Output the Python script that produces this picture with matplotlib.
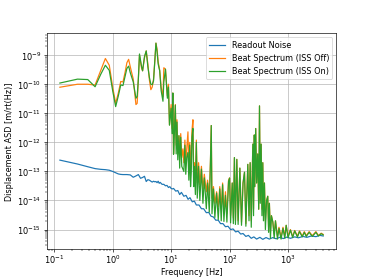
import matplotlib
matplotlib.use('Agg')
import matplotlib.pyplot as plt

# readout noise floor
readout_freq = [0.125, 0.25, 0.375, 0.5, 0.625, 0.75, 0.875, 1.0,
                1.125, 1.25, 1.375, 1.5, 1.75, 2.0, 2.25, 2.5,
                2.75, 3.0, 3.25, 3.5, 3.75, 4.0, 4.25, 4.5,
                4.75, 5.0, 5.25, 5.5, 5.75, 6.0, 6.25, 6.5,
                7.0, 7.5, 8.0, 8.5, 9.0, 9.5, 10, 10.5,
                11, 12, 13, 14, 15, 16.5, 18, 19.5,
                21, 23, 25, 27, 30, 33, 36, 40,
                44, 48, 53, 58, 64, 70, 77, 85,
                94, 104, 115, 127, 140, 155, 170, 190,
                210, 235, 260, 290, 330, 370, 420, 480,
                550, 630, 720, 830, 950, 1100, 1300, 1500,
                1800, 2100, 2500, 3000, 3500, 4000]
readout_asd = [2.45e-13, 1.8e-13, 1.45e-13, 1.25e-13, 1.18e-13, 1.15e-13, 1.1e-13, 1.0e-13,
               9e-14, 8.2e-14, 7.9e-14, 7.8e-14, 7.8e-14, 7.6e-14, 6.3e-14, 7e-14,
               7.8e-14, 5.8e-14, 6.2e-14, 6.8e-14, 4.5e-14, 5.2e-14, 5e-14, 4.6e-14,
               4.3e-14, 4.6e-14, 4.4e-14, 4.5e-14, 4.1e-14, 4.6e-14, 3.9e-14, 4.2e-14,
               3.6e-14, 3.6e-14, 3.2e-14, 3.3e-14, 2.8e-14, 3.0e-14, 2.6e-14, 2.5e-14,
               2.6e-14, 2.1e-14, 2.2e-14, 1.6e-14, 1.9e-14, 1.4e-14, 1.5e-14, 1.1e-14,
               1.25e-14, 9e-15, 9.5e-15, 7e-15, 7e-15, 5.2e-15, 5.2e-15, 3.8e-15,
               3.9e-15, 2.9e-15, 2.7e-15, 2.1e-15, 2.1e-15, 1.6e-15, 1.6e-15, 1.25e-15,
               1.3e-15, 1.0e-15, 1.05e-15, 8.3e-16, 8.8e-16, 7e-16, 7.3e-16, 5.8e-16,
               6.3e-16, 5e-16, 5.6e-16, 4.7e-16, 5.4e-16, 4.6e-16, 5.3e-16, 4.7e-16,
               5.3e-16, 4.8e-16, 5.4e-16, 4.9e-16, 5.5e-16, 5e-16, 5.6e-16, 5.2e-16,
               5.8e-16, 5.4e-16, 6e-16, 5.7e-16, 6.3e-16, 6e-16]

# beat note spectra, ISS off / on
beat_freq = [0.125, 0.25, 0.375, 0.5, 0.625, 0.75, 0.875, 1.0,
             1.125, 1.25, 1.375, 1.5, 1.625, 1.75, 1.875, 2.0,
             2.25, 2.5, 2.625, 2.75, 2.875, 3.125, 3.25, 3.5,
             3.75, 4.0, 4.25, 4.5, 4.75, 5.0, 5.25, 5.5,
             5.75, 6.0, 6.375, 6.75, 7.25, 7.5, 8.0, 8.625,
             9.0, 9.375, 10.0, 10.4, 10.7, 11.0, 11.2, 11.8,
             12.2, 12.6, 13.0, 13.6, 14.0, 14.6, 15.2, 15.9,
             16.5, 17.2, 17.8, 18.5, 19.4, 20.1, 20.8, 21.5,
             22.1, 22.7, 23.6, 24.3, 25.0, 26, 27, 28,
             29.5, 31, 33, 35, 37, 40, 42, 45,
             47, 48.6, 50, 53, 56, 60, 64, 68,
             72, 76, 80, 85, 90, 96, 100, 104,
             111, 116, 121, 126, 133, 140, 150, 160,
             170, 180, 190, 205, 215, 225, 235, 250,
             257, 265, 270, 280, 290, 303, 315, 325,
             335, 347, 358, 370, 380, 395, 410, 430,
             450, 465, 480, 500, 520, 550, 580, 610,
             660, 700, 760, 820, 880, 930, 1000, 1100,
             1200, 1300, 1450, 1570, 1750, 1900, 2050, 2300,
             2600, 3000, 3300, 3700, 4000]
beat_off = [7.9e-11, 1.0e-10, 1.0e-10, 9.4e-11, 3.0e-10, 7.7e-10, 4.5e-10, 8e-11,
            2.2e-11, 5e-11, 1.25e-10, 1.2e-10, 2.5e-10, 5.5e-10, 7.2e-10, 4e-10,
            1.5e-10, 2.0e-11, 2.2e-11, 1.5e-10, 1.0e-9, 3.5e-10, 2.9e-10, 8e-10,
            1.4e-9, 5e-10, 1.4e-10, 6.5e-11, 8e-11, 1.5e-10, 6e-10, 2.6e-9,
            1.6e-9, 6e-10, 3e-10, 8e-11, 3.7e-11, 3.7e-10, 3.3e-10, 4e-11,
            1.0e-10, 4e-12, 2e-11, 3e-12, 5e-11, 4e-13, 2e-12, 2e-11,
            8e-13, 6e-12, 6e-13, 1.7e-12, 4e-13, 2e-12, 3e-13, 6e-13,
            2e-13, 1.2e-12, 2e-13, 6e-13, 2.3e-12, 1.5e-13, 1e-12, 1.2e-13,
            4e-13, 2.5e-12, 6e-12, 8e-14, 2e-13, 6e-14, 1.2e-12, 4e-14,
            2e-13, 3.5e-14, 1.5e-13, 2.5e-14, 8e-14, 2e-14, 5e-14, 1.5e-14,
            2e-13, 3.8e-12, 1.2e-14, 3e-14, 8e-15, 2e-14, 6e-15, 3e-14,
            5e-15, 4e-14, 4e-15, 2e-14, 3.5e-15, 5e-14, 6e-14, 3e-15,
            4e-14, 2.5e-15, 3e-13, 2e-15, 2.6e-13, 2e-15, 1.3e-13, 1.8e-15,
            4e-14, 9.4e-14, 1.6e-15, 1.75e-13, 3e-15, 2e-13, 2e-15, 8.7e-13,
            5e-15, 1.8e-12, 3e-14, 3e-12, 4e-14, 4e-13, 5e-15, 1.8e-11,
            1e-14, 8.7e-13, 5e-15, 2e-13, 3e-15, 4e-14, 2e-15, 1e-14,
            1.4e-14, 1.2e-15, 8e-15, 8e-16, 3e-15, 1.8e-15, 7e-16, 2e-15,
            6e-16, 1.2e-15, 5.5e-16, 1.2e-15, 6e-16, 1.4e-15, 6e-16, 1e-15,
            5.8e-16, 9.3e-16, 6e-16, 9e-16, 6e-16, 8.5e-16, 6.2e-16, 8.5e-16,
            6.2e-16, 8.5e-16, 6.3e-16, 7.5e-16, 6.8e-16]
beat_on = [1.1e-10, 1.5e-10, 1.45e-10, 8.2e-11, 2.2e-10, 4.5e-10, 3.0e-10, 6e-11,
           1.7e-11, 4e-11, 9.5e-11, 9e-11, 1.8e-10, 3.5e-10, 4.2e-10, 2.5e-10,
           1.2e-10, 3.3e-11, 3.8e-11, 1.5e-10, 1.1e-9, 4e-10, 2.9e-10, 9e-10,
           1.4e-9, 4e-10, 1.7e-10, 1.0e-10, 9.7e-11, 1.3e-10, 6e-10, 2.6e-9,
           1.3e-9, 5e-10, 2.9e-10, 6e-11, 2.6e-11, 1.2e-10, 3.3e-10, 3.3e-11,
           8e-11, 3.9e-12, 1.5e-11, 2e-12, 5e-11, 3.9e-13, 8e-13, 1.9e-11,
           4e-13, 5e-12, 2.5e-13, 1.7e-12, 1.3e-13, 1.5e-12, 1.5e-13, 1.2e-13,
           1.0e-13, 8e-13, 8e-14, 3e-13, 4.5e-13, 5e-14, 8e-13, 3e-14,
           9e-14, 1.5e-12, 3e-12, 3e-14, 1.5e-13, 1.6e-14, 1.0e-12, 1.2e-14,
           1.5e-13, 1e-14, 1.2e-13, 8e-15, 6e-14, 5.2e-15, 4e-14, 4e-15,
           2e-13, 3.8e-12, 3.5e-15, 2.5e-14, 2.6e-15, 1.8e-14, 2.2e-15, 2.5e-14,
           2e-15, 3.5e-14, 1.9e-15, 1.5e-14, 1.8e-15, 4.5e-14, 5.9e-14, 1.7e-15,
           4e-14, 1.6e-15, 3e-13, 1.5e-15, 2.6e-13, 1.5e-15, 1.3e-13, 1.4e-15,
           4e-14, 9.4e-14, 1.3e-15, 1.75e-13, 2e-15, 2e-13, 1.2e-15, 8.7e-13,
           3e-15, 1.8e-12, 3e-14, 3e-12, 4e-14, 4e-13, 5e-15, 1.8e-11,
           8e-15, 8.7e-13, 3e-15, 2e-13, 2e-15, 4e-14, 1e-15, 1e-14,
           1.4e-14, 8e-16, 8e-15, 5e-16, 3e-15, 1.8e-15, 5e-16, 2e-15,
           4.7e-16, 1.1e-15, 4.7e-16, 1.1e-15, 5e-16, 1.4e-15, 5.2e-16, 9.5e-16,
           5.3e-16, 9e-16, 5.5e-16, 8.5e-16, 5.6e-16, 8e-16, 5.8e-16, 8e-16,
           5.8e-16, 8e-16, 6e-16, 7.2e-16, 6.5e-16]

fig, ax = plt.subplots(figsize=(6.4, 4.8), dpi=58.4)
ax.loglog(readout_freq, readout_asd, label='Readout Noise')
ax.loglog(beat_freq, beat_off, label='Beat Spectrum (ISS Off)')
ax.loglog(beat_freq, beat_on, label='Beat Spectrum (ISS On)')
ax.set_xlabel('Frequency [Hz]', labelpad=2)
ax.set_ylabel('Displacement ASD [m/rt(Hz)]')
ax.tick_params(axis='x', which='major', pad=2)
ax.grid()
ax.legend(loc='upper right')
fig.savefig('out.png')
